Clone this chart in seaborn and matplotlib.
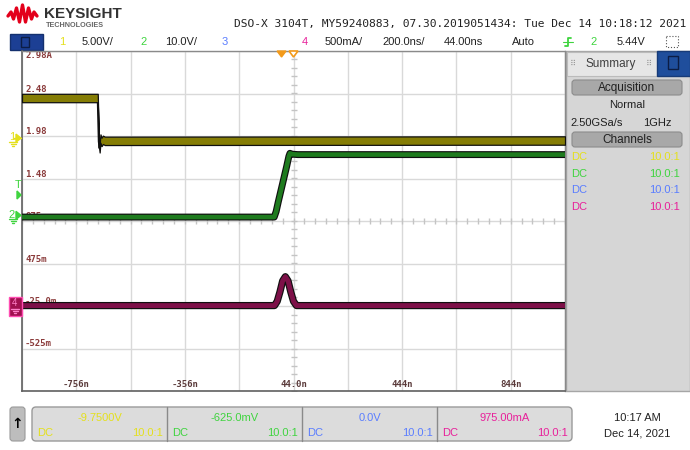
import numpy as np
import pandas as pd
import matplotlib
matplotlib.use('Agg')
import matplotlib.pyplot as plt
import matplotlib.transforms as mtransforms
from matplotlib.patches import FancyBboxPatch, Rectangle, Polygon
import seaborn as sns

# scope settings
t_per_div = 200.0      # ns/div
t_delay = 44.0         # ns at screen centre
ch_scale = {1: 5.0, 2: 10.0, 4: 0.5}
ch_offset = {1: -9.75, 2: -0.625, 4: 0.975}

# traces (time in ns, value in V or A)
ch1_t = [-956, -677, -673, -670, -667, -663, -658, -651, 1044]
ch1_v = [4.72, 4.72, -0.4, -1.2, -0.05, -0.45, -0.2, -0.32, -0.28]
ch2_t = [-956, -27, -20, -12, -2, 8, 18, 27, 31, 38, 60, 1044]
ch2_v = [0.3, 0.3, 1.6, 3.9, 6.6, 9.3, 12.0, 14.6, 15.3, 15.1, 15.0, 15.0]
ch4_t = [-956, -26, -16, -6, 4, 14, 24, 34, 44, 55, 1044]
ch4_i = [-0.02, -0.02, 0.03, 0.14, 0.27, 0.32, 0.27, 0.14, 0.03, -0.02, -0.02]

# graticule labels
y_labels = ['2.98A', '2.48', '1.98', '1.48', '975m', '475m', '-25.0m', '-525m']
x_label_t = [-756, -356, 44, 444, 844]
x_labels = ['-756n', '-356n', '44.0n', '444n', '844n']

# status bar / footer text
title = 'DSO-X 3104T, MY59240883, 07.30.2019051434: Tue Dec 14 10:18:12 2021'
ch_colors = ['#e4e01c', '#3fd43f', '#5a7dff', '#e8209a']
footer_values = ['-9.7500V', '-625.0mV', '0.0V', '975.00mA']
probe = '10.0:1'

W, H = 690, 450
sns.set_style('white')
plt.rcParams['font.family'] = ['Liberation Sans', 'DejaVu Sans']

fig = plt.figure(figsize=(W / 100, H / 100), dpi=100)
fig.patch.set_facecolor('white')

# background layer in pixel coords
bg = fig.add_axes([0, 0, 1, 1], zorder=0)
bg.set_xlim(0, W)
bg.set_ylim(H, 0)
bg.axis('off')

# plot area
x0, x1, y0, y1 = 22, 565, 51, 391
ax = fig.add_axes([x0 / W, 1 - y1 / H, (x1 - x0) / W, (y1 - y0) / H], zorder=2)
tmin = t_delay - 5 * t_per_div
tmax = t_delay + 5 * t_per_div
ax.set_xlim(tmin, tmax)
ax.set_ylim(-4, 4)
ax.set_xticks(np.arange(tmin, tmax + 1, t_per_div))
ax.set_yticks(np.arange(-4, 5, 1))
ax.grid(True, color='#d9d9d9', lw=1)
ax.tick_params(length=0, labelbottom=False, labelleft=False)
for s in ['left', 'bottom']:
    ax.spines[s].set_color('#606060')
    ax.spines[s].set_linewidth(1.2)
for s in ['top', 'right']:
    ax.spines[s].set_color('#8a8a8a')
    ax.spines[s].set_linewidth(1)

# centre-line minor ticks
ax.plot(np.full(41, t_delay), np.arange(-4, 4.01, 0.2), ls='none', marker='_',
        ms=4, color='#c4c4c4', zorder=1)
ax.plot(np.arange(tmin, tmax + 1, t_per_div / 5), np.zeros(51), ls='none',
        marker='|', ms=4, color='#c4c4c4', zorder=1)

# graticule labels
ytr = mtransforms.offset_copy(ax.get_yaxis_transform(), fig=fig, x=3, y=0, units='dots')
for k, lab in enumerate(y_labels):
    lvl = 4 - k
    ax.text(0, lvl, lab, transform=ytr, family='DejaVu Sans Mono', fontsize=6.5,
            fontweight='bold', color='#8a3a3a',
            va='top' if k == 0 else 'bottom', ha='left', zorder=1)
xtr = mtransforms.offset_copy(ax.get_xaxis_transform(), fig=fig, x=0, y=2, units='dots')
for t, lab in zip(x_label_t, x_labels):
    ax.text(t, 0, lab, transform=xtr, family='DejaVu Sans Mono', fontsize=6.5,
            fontweight='bold', color='#5a3a3a', ha='center', va='bottom', zorder=1)

# traces
def to_div(vals, ch):
    return [(v - ch_offset[ch]) / ch_scale[ch] for v in vals]

traces = pd.concat([
    pd.DataFrame({'t': ch1_t, 'div': to_div(ch1_v, 1), 'ch': 'ch1'}),
    pd.DataFrame({'t': ch2_t, 'div': to_div(ch2_v, 2), 'ch': 'ch2'}),
    pd.DataFrame({'t': ch4_t, 'div': to_div(ch4_i, 4), 'ch': 'ch4'}),
])
band_colors = {'ch1': '#857d05', 'ch2': '#1e7b1e', 'ch4': '#7d1048'}
band_widths = {'ch2': (5.0, 3.3), 'ch4': (5.2, 3.5)}
for ch, d in traces.groupby('ch'):
    if ch == 'ch1':
        # fast edge stays thin, flat parts are a noise band
        sns.lineplot(data=d, x='t', y='div', ax=ax, color='#101010', lw=1.5,
                     estimator=None, sort=False, zorder=3)
        half = 4.2 / 42.5
        ax.fill_between(d['t'], d['div'] - half, d['div'] + half,
                        facecolor=band_colors[ch], edgecolor='#101010', lw=0.9, zorder=4)
        continue
    outer, inner = band_widths[ch]
    sns.lineplot(data=d, x='t', y='div', ax=ax, color='#101010', lw=outer,
                 estimator=None, sort=False, zorder=3)
    sns.lineplot(data=d, x='t', y='div', ax=ax, color=band_colors[ch], lw=inner,
                 estimator=None, sort=False, zorder=4)
ax.set_xlabel('')
ax.set_ylabel('')

# foreground layer for markers outside the plot
fg = fig.add_axes([0, 0, 1, 1], zorder=5)
fg.set_xlim(0, W)
fg.set_ylim(H, 0)
fg.axis('off')
fg.patch.set_alpha(0)

def ground_px(ch):
    return 221 - (0 - ch_offset[ch]) / ch_scale[ch] * 42.5

def ground(xc, yc, col):
    fg.plot([xc - 4, xc + 4], [yc, yc], color=col, lw=1)
    fg.plot([xc - 2.5, xc + 2.5], [yc + 2, yc + 2], color=col, lw=1)
    fg.plot([xc - 1, xc + 1], [yc + 4, yc + 4], color=col, lw=1)

# channel ground markers
g1 = ground_px(1)
fg.text(12, g1 - 1, '1', color=ch_colors[0], fontsize=8, ha='center', va='center')
fg.add_patch(Polygon([[16, g1 - 4], [21, g1], [16, g1 + 4]], color=ch_colors[0]))
fg.plot([14, 21], [g1, g1], color=ch_colors[0], lw=1)
ground(13, g1 + 4, ch_colors[0])
fg.text(18, 185, 'T', color=ch_colors[1], fontsize=8, ha='center', va='center')
fg.add_patch(Polygon([[17, 191], [21, 195], [17, 199]], color=ch_colors[1]))
g2 = ground_px(2)
fg.text(12, g2 - 3, '2', color=ch_colors[1], fontsize=8, ha='center', va='center')
fg.add_patch(Polygon([[16, g2 - 7], [21, g2 - 3], [16, g2 + 1]], color=ch_colors[1]))
ground(13, g2 + 1, ch_colors[1])
g4 = ground_px(4)
fg.add_patch(Rectangle((9, g4 - 7), 13, 19, facecolor='#a0104f', edgecolor='#ff4db2', lw=1))
fg.text(14, g4 - 1, '4', color='#ff80c8', fontsize=7, ha='center', va='center')
ground(15, g4 + 5, '#ff80c8')

# trigger position / time reference
trig_x = x0 + (0 - tmin) / (tmax - tmin) * (x1 - x0)
ref_x = x0 + (t_delay - tmin) / (tmax - tmin) * (x1 - x0)
fg.add_patch(Polygon([[trig_x - 4.5, 51], [trig_x + 4.5, 51], [trig_x, 57]], color='#f39a1a'))
fg.add_patch(Polygon([[ref_x - 4.5, 51], [ref_x + 4.5, 51], [ref_x, 57]], facecolor='white',
                     edgecolor='#f39a1a', lw=1.2))

# header: logo and title
logo_x = [8, 11, 13.5, 16.5, 19.5, 22.5, 25.5, 28.5, 31.5, 34, 37]
logo_y = [16, 12, 19, 8, 22, 5, 22, 8, 19, 12, 16]
bg.plot(logo_x, logo_y, color='#e3001b', lw=2.4, solid_joinstyle='round')
bg.text(44, 14, 'KEYSIGHT', fontsize=11, fontweight='bold', color='#333333', va='center')
bg.text(46, 25.5, 'TECHNOLOGIES', fontsize=5.2, fontweight='bold', color='#666666', va='center')
bg.text(686, 24, title, family='DejaVu Sans Mono', fontsize=8.1, color='#222222',
        ha='right', va='center')

# status bar
bg.add_patch(Rectangle((10, 34), 33, 16, facecolor='#1c3f94', edgecolor='#14306e'))
bg.add_patch(Rectangle((21, 37), 8, 10, facecolor='none', edgecolor='#0c1d45', lw=1))
sb_y = 42
status = [(59, '1', ch_colors[0]), (82, '5.00V/', '#222222'), (140, '2', ch_colors[1]),
          (165, '10.0V/', '#222222'), (222, '3', ch_colors[2]), (302, '4', ch_colors[3]),
          (325, '500mA/', '#222222'), (382, '200.0ns/', '#222222'),
          (444, '44.00ns', '#222222'), (512, 'Auto', '#222222'),
          (590, '2', ch_colors[1]), (617, '5.44V', '#222222')]
for xx, s, c in status:
    bg.text(xx, sb_y, s, fontsize=8, color=c, va='center', ha='left')
bg.plot([565, 568, 568, 571], [46, 46, 38, 38], color=ch_colors[1], lw=1.3)
bg.plot([563, 573], [42, 42], color=ch_colors[1], lw=0.8)
bg.add_patch(Rectangle((666, 36), 12, 11, facecolor='none', edgecolor='#555555', lw=0.8, ls=':'))

# right summary panel
bg.add_patch(Rectangle((566, 51), 124, 340, facecolor='#d6d6d6', edgecolor='#a6a6a6', lw=1))
bg.add_patch(Rectangle((567, 52), 90, 24, facecolor='#e6e6e6', edgecolor='#bbbbbb', lw=0.8))
bg.add_patch(Rectangle((657, 51), 33, 25, facecolor='#1f4e9c', edgecolor='#173b78'))
bg.add_patch(Rectangle((668, 56), 10, 13, facecolor='none', edgecolor='#0c1d45', lw=1))
bg.text(611, 63.5, 'Summary', fontsize=8.5, color='#404040', ha='center', va='center')
bg.text(573, 63, '⠿', fontsize=6, color='#9a9a9a', ha='center', va='center', family='DejaVu Sans')
bg.text(649, 63, '⠿', fontsize=6, color='#9a9a9a', ha='center', va='center', family='DejaVu Sans')
for yy, lab in [(80, 'Acquisition'), (132, 'Channels')]:
    bg.add_patch(FancyBboxPatch((572, yy), 110, 15, boxstyle='round,pad=0,rounding_size=3',
                                facecolor='#a8a8a8', edgecolor='#8c8c8c', lw=0.8))
    bg.text(627, yy + 7.8, lab, fontsize=8.5, color='#202020', ha='center', va='center')
bg.text(627, 105, 'Normal', fontsize=8, color='#202020', ha='center', va='center')
bg.text(570, 123, '2.50GSa/s', fontsize=8, color='#202020', ha='left', va='center')
bg.text(643, 123, '1GHz', fontsize=8, color='#202020', ha='left', va='center')
for k, c in enumerate(ch_colors):
    yy = 157 + k * 16.7
    bg.text(571, yy, 'DC', fontsize=8, color=c, ha='left', va='center')
    bg.text(680, yy, probe, fontsize=8, color=c, ha='right', va='center')

# footer
bg.add_patch(FancyBboxPatch((10, 407), 15, 34, boxstyle='round,pad=0,rounding_size=3',
                            facecolor='#bdbdbd', edgecolor='#9a9a9a', lw=0.8))
bg.text(17.5, 424, '↑', fontsize=10, fontweight='bold', color='black', ha='center',
        va='center', family='DejaVu Sans')
bg.add_patch(FancyBboxPatch((32, 407), 540, 34, boxstyle='round,pad=0,rounding_size=4',
                            facecolor='#dcdcdc', edgecolor='#9a9a9a', lw=1))
seg_w = 540 / 4
for k in range(4):
    sx = 32 + k * seg_w
    if k > 0:
        bg.plot([sx, sx], [407, 441], color='#8a8a8a', lw=1)
    bg.text(sx + seg_w / 2, 418, footer_values[k], fontsize=8, color=ch_colors[k],
            ha='center', va='center')
    bg.text(sx + 5, 433, 'DC', fontsize=8, color=ch_colors[k], ha='left', va='center')
    bg.text(sx + seg_w - 4, 433, probe, fontsize=8, color=ch_colors[k], ha='right', va='center')
bg.text(637, 418, '10:17 AM', fontsize=8, color='#222222', ha='center', va='center')
bg.text(637, 433, 'Dec 14, 2021', fontsize=8, color='#222222', ha='center', va='center')

fig.savefig('out.png', dpi=100)
